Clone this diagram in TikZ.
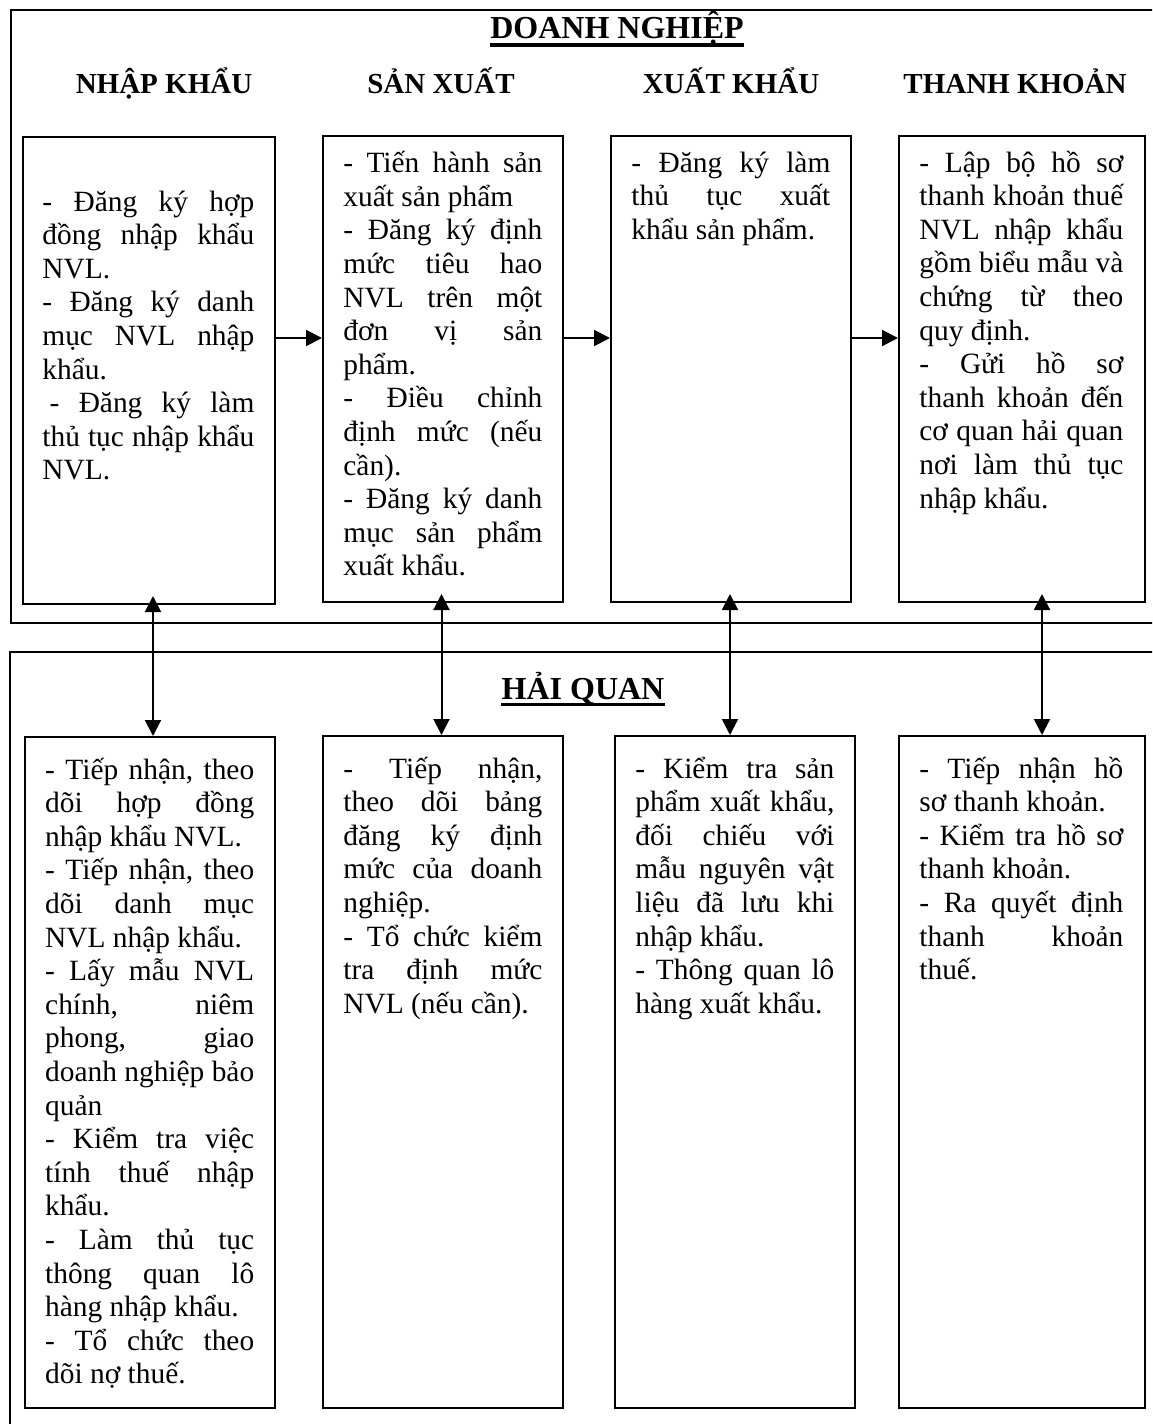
\documentclass[tikz,border=0pt]{standalone}
\usepackage{fontspec}
\setmainfont{Liberation Serif}
\usetikzlibrary{arrows.meta,calc}
\frenchspacing
\newcommand{\bodyfont}{\fontsize{14.7pt}{16.8pt}\selectfont}
\newcommand{\jline}[1]{\hbox to \hsize{\spaceskip=0.25em plus 1fil minus 0.1em\xspaceskip=\spaceskip #1}}
\newcommand{\lline}[1]{\hbox to \hsize{#1\hfil}}
\newcommand{\tblock}[2]{\vtop{\hsize=#1\relax\bodyfont #2}}
\begin{document}
\begin{tikzpicture}[x=0.5pt,y=-0.5pt,
  >={Triangle[length=8pt,width=8pt]},
  box/.style={draw, line width=1pt, inner sep=0pt, anchor=north west},
  frame/.style={line width=1.2pt},
  txt/.style={inner sep=0pt, anchor=base west},
  head/.style={inner sep=0pt, anchor=base, font=\fontsize{14.5pt}{17pt}\selectfont\bfseries},
  title/.style={inner sep=0pt, anchor=base, font=\fontsize{16pt}{19pt}\selectfont\bfseries},
  uline/.style={line width=1.6pt},
  link/.style={line width=1pt, ->},
  both/.style={line width=1pt, <->}]
\useasboundingbox (0,0) rectangle (1152,1424);
\fill[white] (0,0) rectangle (1152,1424);
\begin{scope}
\clip (0,0) rectangle (1152,1424);
\draw[frame] (1170,10) -| (11,623) -- (1170,623);
\draw[frame] (1170,652) -| (10,1440);
\end{scope}

% titles
\node[title] (dn) at (617,39) {DOANH NGHIỆP};
\draw[uline] ($(dn.base west)+(0,6)$) -- ($(dn.base east)+(0,6)$);
\node[head] (h1) at (164,93) {NHẬP KHẨU};
\node[head] (h2) at (441,93) {SẢN XUẤT};
\node[head] (h3) at (731,93) {XUẤT KHẨU};
\node[head] (h4) at (1015,93) {THANH KHOẢN};
\node[title] (hq) at (583,699) {HẢI QUAN};
\draw[uline] ($(hq.base west)+(0,5.5)$) -- ($(hq.base east)+(0,5.5)$);

% top boxes
\node[box, minimum width=126pt, minimum height=233.5pt] (T1) at (22,136) {};
\node[box, minimum width=120pt, minimum height=233pt] (T2) at (322,135) {};
\node[box, minimum width=120pt, minimum height=233pt] (T3) at (610,135) {};
\node[box, minimum width=123pt, minimum height=233pt] (T4) at (898,135) {};
% bottom boxes
\node[box, minimum width=125pt, minimum height=335.5pt] (B1) at (24,736) {};
\node[box, minimum width=120pt, minimum height=336pt] (B2) at (322,735) {};
\node[box, minimum width=120pt, minimum height=336pt] (B3) at (614,735) {};
\node[box, minimum width=123pt, minimum height=336pt] (B4) at (898,735) {};

% top texts
\node[txt] (t1) at (42,211) {\tblock{106pt}{%
\jline{- Đăng ký hợp}
\jline{đồng nhập khẩu}
\lline{NVL.}
\jline{- Đăng ký danh}
\jline{mục NVL nhập}
\lline{khẩu.}
\jline{\kern0.25em- Đăng ký làm}
\jline{thủ tục nhập khẩu}
\lline{NVL.}}};

\node[txt] (t2) at (343,172.7) {\tblock{99.5pt}{%
\jline{- Tiến hành sản}
\lline{xuất sản phẩm}
\jline{- Đăng ký định}
\jline{mức tiêu hao}
\jline{NVL trên một}
\jline{đơn vị sản}
\lline{phẩm.}
\jline{- Điều chỉnh}
\jline{định mức (nếu}
\lline{cần).}
\jline{- Đăng ký danh}
\jline{mục sản phẩm}
\lline{xuất khẩu.}}};

\node[txt] (t3) at (631,172) {\tblock{99.5pt}{%
\jline{- Đăng ký làm}
\jline{thủ tục xuất}
\lline{khẩu sản phẩm.}}};

\node[txt] (t4) at (919,172) {\tblock{102pt}{%
\jline{- Lập bộ hồ sơ}
\jline{thanh khoản thuế}
\jline{NVL nhập khẩu}
\jline{gồm biểu mẫu và}
\jline{chứng từ theo}
\lline{quy định.}
\jline{- Gửi hồ sơ}
\jline{thanh khoản đến}
\jline{cơ quan hải quan}
\jline{nơi làm thủ tục}
\lline{nhập khẩu.}}};

% bottom texts
\node[txt] (b1) at (44.8,779) {\tblock{104.5pt}{%
\jline{- Tiếp nhận, theo}
\jline{dõi hợp đồng}
\lline{nhập khẩu NVL.}
\jline{- Tiếp nhận, theo}
\jline{dõi danh mục}
\lline{NVL nhập khẩu.}
\jline{- Lấy mẫu NVL}
\jline{chính, niêm}
\jline{phong, giao}
\jline{doanh nghiệp bảo}
\lline{quản}
\jline{- Kiểm tra việc}
\jline{tính thuế nhập}
\lline{khẩu.}
\jline{- Làm thủ tục}
\jline{thông quan lô}
\lline{hàng nhập khẩu.}
\jline{- Tổ chức theo}
\lline{dõi nợ thuế.}}};

\node[txt] (b2) at (343,778) {\tblock{99.5pt}{%
\jline{- Tiếp nhận,}
\jline{theo dõi bảng}
\jline{đăng ký định}
\jline{mức của doanh}
\lline{nghiệp.}
\jline{- Tổ chức kiểm}
\jline{tra định mức}
\lline{NVL (nếu cần).}}};

\node[txt] (b3) at (635,778) {\tblock{99.5pt}{%
\jline{- Kiểm tra sản}
\jline{phẩm xuất khẩu,}
\jline{đối chiếu với}
\jline{mẫu nguyên vật}
\jline{liệu đã lưu khi}
\lline{nhập khẩu.}
\jline{- Thông quan lô}
\lline{hàng xuất khẩu.}}};

\node[txt] (b4) at (919,778) {\tblock{102pt}{%
\jline{- Tiếp nhận hồ}
\lline{sơ thanh khoản.}
\jline{- Kiểm tra hồ sơ}
\lline{thanh khoản.}
\jline{- Ra quyết định}
\jline{thanh khoản}
\lline{thuế.}}};

% horizontal arrows
\coordinate (hy) at (0,338);
\draw[link] (T1.east |- hy) -- (T2.west |- hy);
\draw[link] (T2.east |- hy) -- (T3.west |- hy);
\draw[link] (T3.east |- hy) -- (T4.west |- hy);

% vertical double arrows
\coordinate (v1) at (153,0);
\coordinate (v2) at (441.5,0);
\coordinate (v3) at (730,0);
\coordinate (v4) at (1042,0);
\draw[both] ($(T1.south -| v1)+(0,-9)$) -- (B1.north -| v1);
\draw[both] ($(T2.south -| v2)+(0,-9)$) -- (B2.north -| v2);
\draw[both] ($(T3.south -| v3)+(0,-9)$) -- (B3.north -| v3);
\draw[both] ($(T4.south -| v4)+(0,-9)$) -- (B4.north -| v4);
\end{tikzpicture}
\end{document}
